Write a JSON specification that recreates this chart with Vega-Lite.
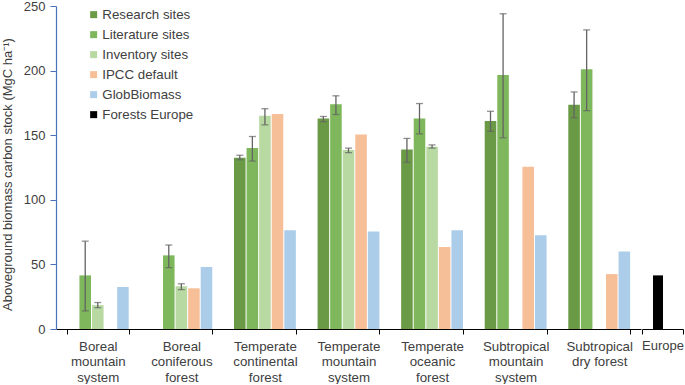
{
  "$schema": "https://vega.github.io/schema/vega-lite/v6.json",
  "padding": {"left": 1, "top": 0, "right": 0, "bottom": 0},
  "config": {
    "font": "Liberation Sans",
    "view": {"stroke": null},
    "axis": {"labelFont": "Liberation Sans", "titleFont": "Liberation Sans", "labelColor": "#404040", "titleColor": "#404040", "grid": false}
  },
  "datasets": {
    "main": [
      {"cat": "Boreal mountain system", "series": "Literature sites", "v": 41.5, "lo": 14, "hi": 68},
      {"cat": "Boreal mountain system", "series": "Inventory sites", "v": 18.5, "lo": 16.5, "hi": 20.5},
      {"cat": "Boreal mountain system", "series": "GlobBiomass", "v": 32.5},
      {"cat": "Boreal coniferous forest", "series": "Literature sites", "v": 57, "lo": 47.5, "hi": 65},
      {"cat": "Boreal coniferous forest", "series": "Inventory sites", "v": 33, "lo": 30.5, "hi": 35},
      {"cat": "Boreal coniferous forest", "series": "IPCC default", "v": 31.5},
      {"cat": "Boreal coniferous forest", "series": "GlobBiomass", "v": 48},
      {"cat": "Temperate continental forest", "series": "Research sites", "v": 132.5, "lo": 131, "hi": 134.5},
      {"cat": "Temperate continental forest", "series": "Literature sites", "v": 140, "lo": 130, "hi": 149},
      {"cat": "Temperate continental forest", "series": "Inventory sites", "v": 165, "lo": 158, "hi": 170.5},
      {"cat": "Temperate continental forest", "series": "IPCC default", "v": 166.5},
      {"cat": "Temperate continental forest", "series": "GlobBiomass", "v": 76.5},
      {"cat": "Temperate mountain system", "series": "Research sites", "v": 163, "lo": 160.5, "hi": 164.5},
      {"cat": "Temperate mountain system", "series": "Literature sites", "v": 174, "lo": 166, "hi": 180.5},
      {"cat": "Temperate mountain system", "series": "Inventory sites", "v": 138.5, "lo": 136.5, "hi": 140},
      {"cat": "Temperate mountain system", "series": "IPCC default", "v": 150.5},
      {"cat": "Temperate mountain system", "series": "GlobBiomass", "v": 75.5},
      {"cat": "Temperate oceanic forest", "series": "Research sites", "v": 139, "lo": 129, "hi": 147.5},
      {"cat": "Temperate oceanic forest", "series": "Literature sites", "v": 163, "lo": 151, "hi": 174.5},
      {"cat": "Temperate oceanic forest", "series": "Inventory sites", "v": 141, "lo": 140, "hi": 142.5},
      {"cat": "Temperate oceanic forest", "series": "IPCC default", "v": 63.5},
      {"cat": "Temperate oceanic forest", "series": "GlobBiomass", "v": 76.5},
      {"cat": "Subtropical mountain system", "series": "Research sites", "v": 161, "lo": 153, "hi": 168.5},
      {"cat": "Subtropical mountain system", "series": "Literature sites", "v": 196.5, "lo": 148, "hi": 244},
      {"cat": "Subtropical mountain system", "series": "IPCC default", "v": 125.5},
      {"cat": "Subtropical mountain system", "series": "GlobBiomass", "v": 72.5},
      {"cat": "Subtropical dry forest", "series": "Research sites", "v": 173.5, "lo": 163.5, "hi": 183.5},
      {"cat": "Subtropical dry forest", "series": "Literature sites", "v": 201, "lo": 169, "hi": 231.5},
      {"cat": "Subtropical dry forest", "series": "IPCC default", "v": 42.5},
      {"cat": "Subtropical dry forest", "series": "GlobBiomass", "v": 60},
      {"cat": "Europe", "series": "Forests Europe", "v": 41.5}
    ]
  },
  "spacing": 0,
  "resolve": {"scale": {"y": "shared", "color": "shared"}},
  "hconcat": [
    {
      "width": 585,
      "height": 323,
      "data": {"name": "main"},
      "transform": [{"filter": "datum.cat != 'Europe'"}],
      "encoding": {
        "x": {
          "field": "cat", "type": "nominal",
          "sort": ["Boreal mountain system", "Boreal coniferous forest", "Temperate continental forest", "Temperate mountain system", "Temperate oceanic forest", "Subtropical mountain system", "Subtropical dry forest"],
          "scale": {"paddingInner": 0.26, "paddingOuter": 0.13},
          "axis": {
            "title": null, "labelAngle": 0, "labelFontSize": 13.3, "labelLineHeight": 15.5, "labelPadding": 5,
            "tickBand": "extent", "tickColor": "#000000", "tickSize": 5, "domainColor": "#000000", "domainWidth": 1.2,
            "labelExpr": "datum.label == 'Subtropical dry forest' ? ['Subtropical', 'dry forest'] : split(datum.label, ' ')"
          }
        },
        "xOffset": {
          "field": "series", "type": "nominal",
          "scale": {"domain": ["Research sites", "Literature sites", "Inventory sites", "IPCC default", "GlobBiomass"], "paddingInner": 0.08, "paddingOuter": 0}
        }
      },
      "layer": [
        {
          "mark": {"type": "bar"},
          "encoding": {
            "y": {
              "field": "v", "type": "quantitative",
              "scale": {"domain": [0, 250], "nice": false},
              "axis": {
                "title": "Aboveground biomass carbon stock (MgC ha⁻¹)", "titleFontSize": 13, "titleFontWeight": "normal", "titlePadding": 9, "titleY": 168,
                "values": [0, 50, 100, 150, 200, 250], "labelFontSize": 13, "labelPadding": 5,
                "domainColor": "#4a72b8", "tickColor": "#4a72b8", "tickSize": 6, "domainWidth": 1.2
              }
            },
            "color": {
              "field": "series", "type": "nominal",
              "scale": {
                "domain": ["Research sites", "Literature sites", "Inventory sites", "IPCC default", "GlobBiomass", "Forests Europe"],
                "range": ["#6a9a45", "#7fb85c", "#b8d9a2", "#f6bf98", "#abcdea", "#000000"]
              },
              "legend": {
                "title": null, "orient": "none", "legendX": 31, "legendY": 2,
                "symbolType": "square", "symbolSize": 49, "symbolStrokeWidth": 0, "labelFontSize": 13.3, "labelColor": "#404040",
                "rowPadding": 6, "labelOffset": 2, "padding": 0
              }
            }
          }
        },
        {
          "transform": [{"filter": "isValid(datum.lo)"}],
          "mark": {"type": "rule", "color": "#636363", "strokeWidth": 1.3},
          "encoding": {
            "y": {"field": "lo", "type": "quantitative"},
            "y2": {"field": "hi"}
          }
        },
        {
          "transform": [{"filter": "isValid(datum.lo)"}],
          "mark": {"type": "tick", "color": "#636363", "thickness": 1.3, "size": 7, "orient": "horizontal"},
          "encoding": {"y": {"field": "lo", "type": "quantitative"}}
        },
        {
          "transform": [{"filter": "isValid(datum.hi)"}],
          "mark": {"type": "tick", "color": "#636363", "thickness": 1.3, "size": 7, "orient": "horizontal"},
          "encoding": {"y": {"field": "hi", "type": "quantitative"}}
        }
      ]
    },
    {
      "width": 41,
      "height": 323,
      "data": {"name": "main"},
      "transform": [{"filter": "datum.cat == 'Europe'"}],
      "mark": {"type": "bar", "width": 10, "xOffset": -4.5},
      "encoding": {
        "x": {
          "field": "cat", "type": "nominal",
          "scale": {"paddingInner": 0, "paddingOuter": 0},
          "axis": {"title": null, "labelAngle": 0, "labelFontSize": 13, "labelPadding": 5, "labelDx": 1, "tickBand": "extent", "tickColor": "#000000", "tickSize": 5, "domainColor": "#000000", "domainWidth": 1.2}
        },
        "y": {"field": "v", "type": "quantitative", "axis": null},
        "color": {"field": "series", "type": "nominal"}
      }
    }
  ]
}
